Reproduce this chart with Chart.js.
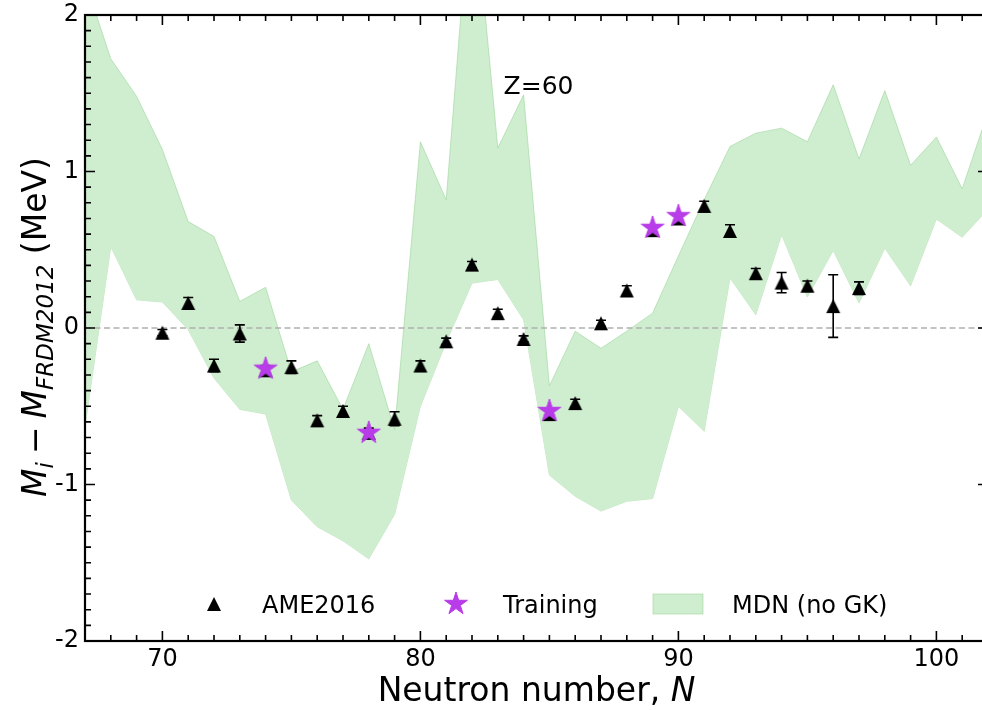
<!DOCTYPE html>
<html>
<head>
<meta charset="utf-8">
<script src="https://cdn.jsdelivr.net/npm/chart.js@4.4.0/dist/chart.umd.min.js"></script>
<style>
  html, body { margin: 0; padding: 0; background: #fff; overflow: hidden; }
  #wrap { width: 982px; height: 710px; overflow: hidden; position: relative; }
  canvas { display: block; }
</style>
</head>
<body>
<div id="wrap"><canvas id="c" width="1000" height="710"></canvas></div>
<script>
// MDN (no GK) uncertainty band, Z = 60
const bandN = [67, 68, 69, 70, 71, 72, 73, 74, 75, 76, 77, 78, 79, 80, 81, 82, 83, 84,
               85, 86, 87, 88, 89, 90, 91, 92, 93, 94, 95, 96, 97, 98, 99, 100, 101, 102];
const mdnUpper = [2.22, 1.72, 1.48, 1.14, 0.68, 0.585, 0.17, 0.26, -0.28, -0.21, -0.52, -0.10,
                  -0.65, 1.19, 0.82, 2.90, 1.15, 1.49, -0.37, -0.02, -0.13, -0.02, 0.095, 0.46,
                  0.82, 1.16, 1.245, 1.277, 1.19, 1.554, 1.08, 1.517, 1.04, 1.22, 0.89, 1.38];
const mdnLower = [-0.63, 0.52, 0.18, 0.166, -0.01, -0.32, -0.52, -0.55, -1.10, -1.27, -1.36, -1.475,
                  -1.19, -0.50, -0.09, 0.287, 0.31, 0.053, -0.94, -1.075, -1.17, -1.107, -1.09, -0.50,
                  -0.66, 0.32, 0.085, 0.596, 0.198, 0.496, 0.16, 0.51, 0.27, 0.696, 0.58, 0.76];

// AME2016 mass differences with their uncertainties (MeV)
const ameN = [70, 71, 72, 73, 74, 75, 76, 77, 78, 79, 80, 81, 82, 83,
              84, 85, 86, 87, 88, 89, 90, 91, 92, 93, 94, 95, 96, 97];
const ameDelta = [-0.03, 0.16, -0.24, -0.035, -0.27, -0.25, -0.59, -0.53, -0.67, -0.58, -0.24, -0.085, 0.405, 0.095,
                  -0.07, -0.55, -0.48, 0.03, 0.24, 0.625, 0.70, 0.78, 0.62, 0.35, 0.29, 0.27, 0.14, 0.255];
const ameErr = [0.02, 0.035, 0.04, 0.055, 0.03, 0.04, 0.03, 0.03, 0.03, 0.045, 0.03, 0.02, 0.02, 0.025,
                0.02, 0.03, 0.025, 0.02, 0.03, 0.03, 0.03, 0.03, 0.04, 0.03, 0.065, 0.03, 0.2, 0.04];

// nuclei used in training
const trainN = [74, 78, 85, 89, 90];
const trainDelta = [-0.26, -0.67, -0.53, 0.64, 0.715];

const xTicks = [70, 80, 90, 100];
const yTicks = [-2, -1, 0, 1, 2];

const FONT = 'DejaVu Sans';
const BAND_FILL = 'rgb(207,237,207)';
const BAND_EDGE = 'rgba(150,212,150,0.55)';
const STAR_COLOR = '#b83de8';

function makeTriangle(size, color) {
  const c = document.createElement('canvas');
  c.width = c.height = size + 2;
  const g = c.getContext('2d');
  const h = size / 2, m = c.width / 2;
  g.fillStyle = color;
  g.beginPath();
  g.moveTo(m, m - h);
  g.lineTo(m + h, m + h);
  g.lineTo(m - h, m + h);
  g.closePath();
  g.fill();
  return c;
}

function makeStar(R, color) {
  const c = document.createElement('canvas');
  const s = Math.ceil(2 * R + 4);
  c.width = c.height = s;
  const g = c.getContext('2d');
  const m = s / 2, r = R * 0.381966;
  g.beginPath();
  for (let k = 0; k < 10; k++) {
    const ang = -Math.PI / 2 + k * Math.PI / 5;
    const rad = k % 2 ? r : R;
    const px = m + rad * Math.cos(ang), py = m + rad * Math.sin(ang);
    k ? g.lineTo(px, py) : g.moveTo(px, py);
  }
  g.closePath();
  g.fillStyle = color;
  g.fill();
  g.strokeStyle = color;
  g.lineWidth = 1;
  g.stroke();
  return c;
}

const triImg = makeTriangle(14, '#000');
const starImg = makeStar(12, STAR_COLOR);

// zero line and error bars under the AME2016 markers
const underMarkers = {
  id: 'underMarkers',
  beforeDatasetDraw(chart, args) {
    if (args.index !== 2) return;
    const { ctx, chartArea: a, scales: { x, y } } = chart;
    ctx.save();
    ctx.beginPath();
    ctx.rect(a.left, a.top, a.width, a.height);
    ctx.clip();
    const y0 = y.getPixelForValue(0);
    ctx.strokeStyle = '#b0b0b0';
    ctx.lineWidth = 1.5;
    ctx.setLineDash([6, 3.5]);
    ctx.beginPath();
    ctx.moveTo(a.left, y0);
    ctx.lineTo(a.right, y0);
    ctx.stroke();
    ctx.setLineDash([]);
    ctx.strokeStyle = '#000';
    ctx.lineWidth = 1.6;
    ameN.forEach((n, i) => {
      const px = x.getPixelForValue(n);
      const top = y.getPixelForValue(ameDelta[i] + ameErr[i]);
      const bot = y.getPixelForValue(ameDelta[i] - ameErr[i]);
      ctx.beginPath();
      ctx.moveTo(px, top); ctx.lineTo(px, bot);
      ctx.moveTo(px - 5, top); ctx.lineTo(px + 5, top);
      ctx.moveTo(px - 5, bot); ctx.lineTo(px + 5, bot);
      ctx.stroke();
    });
    ctx.restore();
  }
};

function drawRich(ctx, parts, x0, y0) {
  let x = x0;
  parts.forEach(p => {
    ctx.font = p.font;
    ctx.fillText(p.t, x, y0 + (p.dy || 0));
    x += ctx.measureText(p.t).width + (p.gap || 0);
  });
}
function richWidth(ctx, parts) {
  let w = 0;
  parts.forEach(p => { ctx.font = p.font; w += ctx.measureText(p.t).width + (p.gap || 0); });
  return w;
}

// frame, inward ticks, axis titles, legend and annotation
const decorations = {
  id: 'decorations',
  afterDraw(chart) {
    const { ctx, chartArea: a, scales: { x, y } } = chart;
    ctx.save();
    ctx.strokeStyle = '#000';
    ctx.lineWidth = 1.6;
    ctx.beginPath();
    for (let n = 67; n <= 102; n++) {
      const len = n % 10 === 0 ? 10 : 6;
      const px = x.getPixelForValue(n);
      ctx.moveTo(px, a.bottom); ctx.lineTo(px, a.bottom - len);
      ctx.moveTo(px, a.top); ctx.lineTo(px, a.top + len);
    }
    for (let k = -20; k <= 20; k++) {
      const len = k % 10 === 0 ? 10 : 6;
      const py = y.getPixelForValue(k / 10);
      ctx.moveTo(a.left, py); ctx.lineTo(a.left + len, py);
      ctx.moveTo(a.right, py); ctx.lineTo(a.right - len, py);
    }
    ctx.stroke();
    ctx.lineWidth = 2.2;
    ctx.strokeRect(a.left, a.top, a.width, a.height);

    ctx.fillStyle = '#000';
    ctx.textBaseline = 'alphabetic';
    ctx.textAlign = 'left';

    // x-axis title
    const xt = [
      { t: 'Neutron number, ', font: `33px "${FONT}"` },
      { t: 'N', font: `italic 33px "${FONT}"` }
    ];
    drawRich(ctx, xt, (a.left + a.right) / 2 - richWidth(ctx, xt) / 2, 701);

    // y-axis title
    const yt = [
      { t: 'M', font: `italic 33px "${FONT}"` },
      { t: 'i', font: `italic 23px "${FONT}"`, dy: 7, gap: 8 },
      { t: '\u2212', font: `33px "${FONT}"`, gap: 8 },
      { t: 'M', font: `italic 33px "${FONT}"` },
      { t: 'FRDM2012', font: `italic 23px "${FONT}"`, dy: 7 },
      { t: ' (MeV)', font: `33px "${FONT}"` }
    ];
    ctx.save();
    ctx.translate(46, 327);
    ctx.rotate(-Math.PI / 2);
    drawRich(ctx, yt, -richWidth(ctx, yt) / 2, 0);
    ctx.restore();

    // annotation
    ctx.font = `25px "${FONT}"`;
    ctx.textAlign = 'center';
    ctx.textBaseline = 'middle';
    ctx.fillText('Z=60', x.getPixelForValue(84.58), y.getPixelForValue(1.535));

    // legend
    const ly = 604;
    ctx.drawImage(triImg, 214 - triImg.width / 2, ly - triImg.height / 2);
    ctx.drawImage(starImg, 456 - starImg.width / 2, ly - starImg.height / 2);
    ctx.fillStyle = BAND_FILL;
    ctx.fillRect(653, ly - 10, 50, 20);
    ctx.strokeStyle = BAND_EDGE;
    ctx.lineWidth = 1;
    ctx.strokeRect(653, ly - 10, 50, 20);
    ctx.fillStyle = '#000';
    ctx.textAlign = 'left';
    ctx.textBaseline = 'alphabetic';
    ctx.font = `24px "${FONT}"`;
    ctx.fillText('AME2016', 262, ly + 9);
    ctx.fillText('Training', 503, ly + 9);
    ctx.fillText('MDN (no GK)', 732, ly + 9);
    ctx.restore();
  }
};

const pts = (xs, ys) => xs.map((v, i) => ({ x: v, y: ys[i] }));
const noOverhang = s => { s.paddingTop = 0; s.paddingBottom = 0; s.paddingLeft = 0; s.paddingRight = 0; };

new Chart(document.getElementById('c'), {
  type: 'scatter',
  data: {
    datasets: [
      { label: 'MDN (no GK)', data: pts(bandN, mdnUpper), showLine: true, fill: '+1',
        backgroundColor: BAND_FILL, borderColor: BAND_EDGE, borderWidth: 1,
        pointRadius: 0, tension: 0, order: 2 },
      { label: 'MDN lower', data: pts(bandN, mdnLower), showLine: true, fill: false,
        borderColor: BAND_EDGE, borderWidth: 1, pointRadius: 0, tension: 0, order: 2 },
      { label: 'AME2016', data: pts(ameN, ameDelta), pointStyle: triImg, pointRadius: 7, order: 1 },
      { label: 'Training', data: pts(trainN, trainDelta), pointStyle: starImg, pointRadius: 11, order: 0 }
    ]
  },
  options: {
    responsive: false,
    animation: false,
    devicePixelRatio: 1,
    layout: { padding: { top: 15, right: 8, left: 0, bottom: 0 } },
    plugins: { legend: { display: false }, tooltip: { enabled: false } },
    scales: {
      x: {
        type: 'linear', min: 67, max: 102,
        afterBuildTicks: s => { s.ticks = xTicks.map(v => ({ value: v })); },
        afterFit: s => { s.height = 69; noOverhang(s); },
        grid: { display: false, drawTicks: false },
        border: { display: false },
        ticks: { font: { family: FONT, size: 24 }, color: '#000', padding: 4,
                 maxRotation: 0, autoSkip: false, callback: v => String(v) }
      },
      y: {
        type: 'linear', min: -2, max: 2,
        afterBuildTicks: s => { s.ticks = yTicks.map(v => ({ value: v })); },
        afterFit: s => { s.width = 85; noOverhang(s); },
        grid: { display: false, drawTicks: false },
        border: { display: false },
        ticks: { font: { family: FONT, size: 24 }, color: '#000', padding: 6,
                 autoSkip: false, callback: v => String(v) }
      }
    }
  },
  plugins: [underMarkers, decorations]
});
</script>
</body>
</html>
